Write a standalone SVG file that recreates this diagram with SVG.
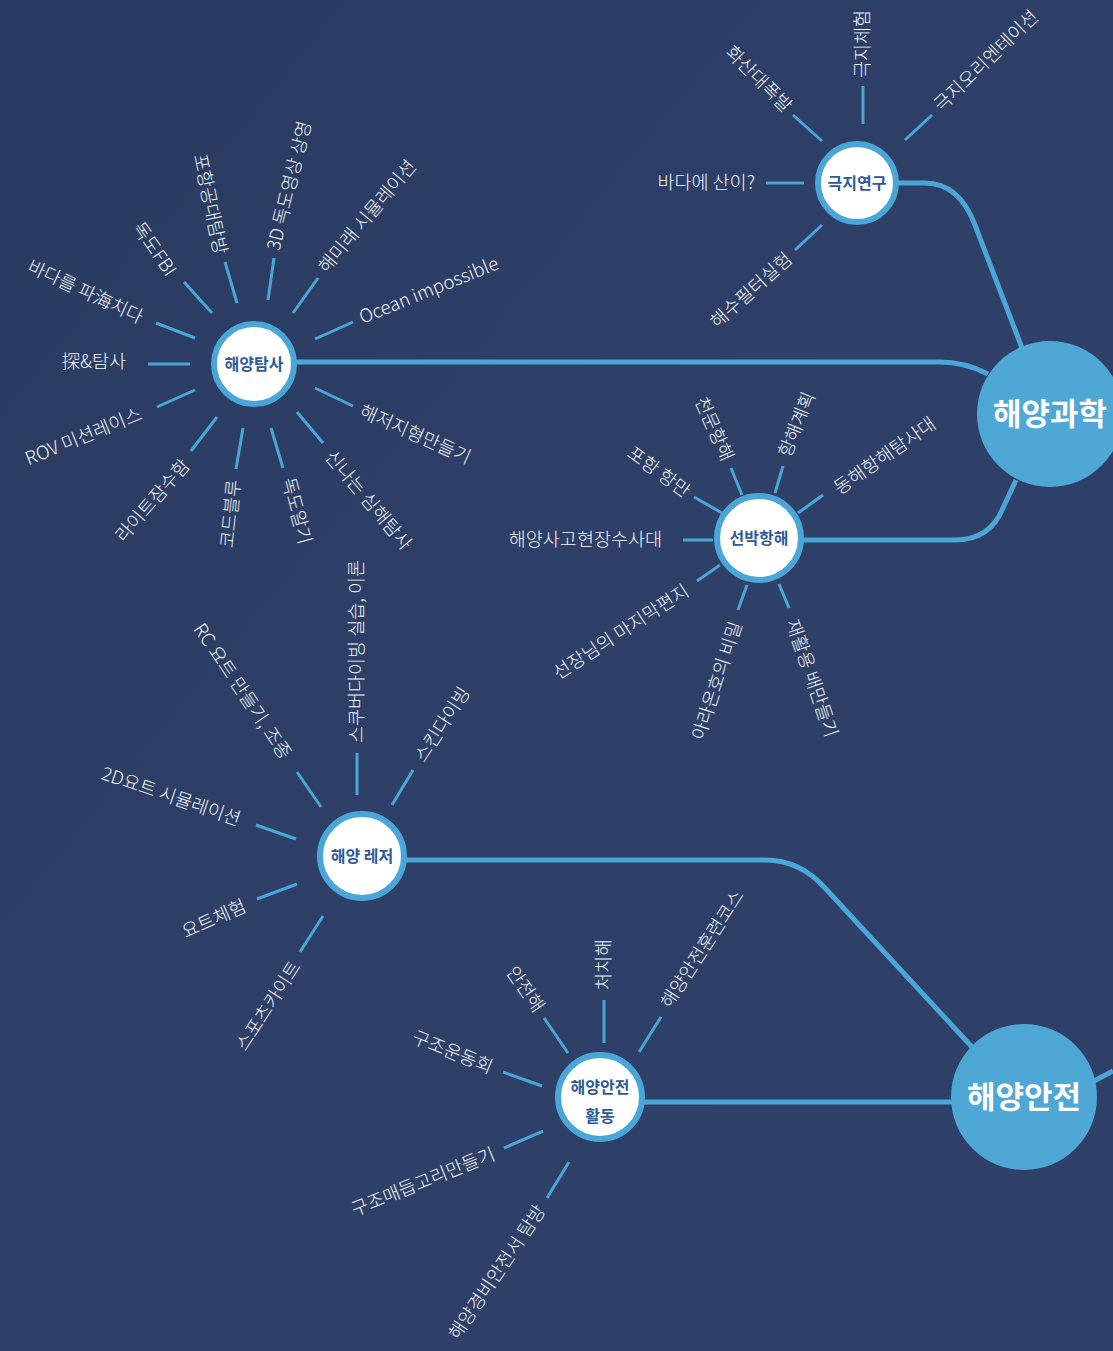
<svg xmlns="http://www.w3.org/2000/svg" width="1113" height="1351" viewBox="0 0 1113 1351">
<style>
.conn{fill:none;stroke:#4aa6d6;stroke-width:5;stroke-linejoin:round}
.spoke{stroke:#4aa6d6;stroke-width:3}
.hub{fill:#fff;stroke:#4aa6d6;stroke-width:6}
.hubt{font-family:"Noto Sans CJK KR","Noto Sans",sans-serif;font-weight:bold;font-size:16px;fill:#2d5a9b;text-anchor:middle}
.big{fill:#4ea7d5}
.bigt{font-family:"Noto Sans CJK KR","Noto Sans",sans-serif;font-weight:bold;font-size:31px;fill:#fff;text-anchor:middle}
.l{font-family:"Noto Sans CJK KR","Noto Sans",sans-serif;font-size:18.5px;fill:#f4f6fa;font-weight:300}
.e{text-anchor:end}
</style>
<defs>
<linearGradient id="bg" x1="0" y1="0" x2="1" y2="1">
<stop offset="0" stop-color="#2a3b61"/>
<stop offset="0.5" stop-color="#2e4068"/>
<stop offset="1" stop-color="#2f4169"/>
</linearGradient>
</defs>
<rect width="1113" height="1351" fill="url(#bg)"/>

<g id="connectors">
<path class="conn" d="M898,183 L925,183 Q959,183 975,225 L1022,348"/>
<path class="conn" d="M295,362 L940,362 Q965,362 988,374"/>
<path class="conn" d="M802,540 L955,540 Q990,540 1003,508 L1016,480"/>
<path class="conn" d="M405,860 L765,860 Q800,860 825,888 L972,1047"/>
<path class="conn" d="M643,1102 L952,1102"/>
<path class="conn" d="M1094,1081 L1113,1071"/>
<!-- 극지연구 spokes -->
<line class="spoke" x1="863" y1="86" x2="863" y2="124"/>
<line class="spoke" x1="793" y1="115" x2="822" y2="141"/>
<line class="spoke" x1="905" y1="140" x2="932" y2="115"/>
<line class="spoke" x1="766" y1="183" x2="804" y2="183"/>
<line class="spoke" x1="795" y1="250" x2="822" y2="225"/>
<!-- 해양탐사 spokes -->
<line class="spoke" x1="274" y1="258" x2="268" y2="300"/>
<line class="spoke" x1="225" y1="262" x2="237" y2="303"/>
<line class="spoke" x1="184" y1="282" x2="212" y2="313"/>
<line class="spoke" x1="156" y1="323" x2="195" y2="338"/>
<line class="spoke" x1="148" y1="364" x2="190" y2="364"/>
<line class="spoke" x1="157" y1="407" x2="195" y2="390"/>
<line class="spoke" x1="191" y1="451" x2="217" y2="417"/>
<line class="spoke" x1="236" y1="469" x2="243" y2="428"/>
<line class="spoke" x1="283" y1="468" x2="271" y2="428"/>
<line class="spoke" x1="323" y1="443" x2="297" y2="412"/>
<line class="spoke" x1="353" y1="406" x2="315" y2="388"/>
<line class="spoke" x1="315" y1="339" x2="353" y2="322"/>
<line class="spoke" x1="293" y1="313" x2="318" y2="278"/>
<!-- 선박항해 spokes -->
<line class="spoke" x1="683" y1="540" x2="713" y2="540"/>
<line class="spoke" x1="694" y1="497" x2="722" y2="513"/>
<line class="spoke" x1="731" y1="468" x2="742" y2="495"/>
<line class="spoke" x1="783" y1="466" x2="775" y2="493"/>
<line class="spoke" x1="823" y1="495" x2="798" y2="513"/>
<line class="spoke" x1="697" y1="581" x2="720" y2="565"/>
<line class="spoke" x1="738" y1="610" x2="747" y2="585"/>
<line class="spoke" x1="789" y1="608" x2="779" y2="584"/>
<!-- 해양 레저 spokes -->
<line class="spoke" x1="357" y1="753" x2="357" y2="795"/>
<line class="spoke" x1="413" y1="770" x2="392" y2="805"/>
<line class="spoke" x1="297" y1="772" x2="321" y2="807"/>
<line class="spoke" x1="256" y1="825" x2="296" y2="839"/>
<line class="spoke" x1="257" y1="899" x2="297" y2="884"/>
<line class="spoke" x1="300" y1="952" x2="323" y2="916"/>
<!-- 해양안전 활동 spokes -->
<line class="spoke" x1="604" y1="1000" x2="604" y2="1043"/>
<line class="spoke" x1="544" y1="1018" x2="568" y2="1053"/>
<line class="spoke" x1="661" y1="1017" x2="639" y2="1052"/>
<line class="spoke" x1="503" y1="1072" x2="542" y2="1086"/>
<line class="spoke" x1="504" y1="1148" x2="543" y2="1131"/>
<line class="spoke" x1="547" y1="1198" x2="569" y2="1162"/>
</g>

<g id="node-haeyang-gwahak">
<circle class="big" cx="1050" cy="414" r="73"/>
<text class="bigt" x="1050" y="425">해양과학</text>
</g>
<g id="node-haeyang-anjeon">
<circle class="big" cx="1024" cy="1097" r="73"/>
<text class="bigt" x="1024" y="1108">해양안전</text>
</g>

<g id="node-gukji">
<circle class="hub" cx="857" cy="183" r="39"/>
<text class="hubt" x="857" y="189">극지연구</text>
</g>
<g id="node-tamsa">
<circle class="hub" cx="254" cy="364" r="40"/>
<text class="hubt" x="254" y="370">해양탐사</text>
</g>
<g id="node-seonbak">
<circle class="hub" cx="759" cy="538" r="42"/>
<text class="hubt" x="759" y="544">선박항해</text>
</g>
<g id="node-leisure">
<circle class="hub" cx="362" cy="856" r="42"/>
<text class="hubt" x="362" y="862">해양 레저</text>
</g>
<g id="node-safety-act">
<circle class="hub" cx="600" cy="1097" r="42"/>
<text class="hubt" x="600" y="1093">해양안전</text>
<text class="hubt" x="600" y="1122">활동</text>
</g>

<g id="labels-gukji">
<text class="l" dy="0.35em" transform="translate(863,78) rotate(-90)">극지체험</text>
<text class="l e" dy="0.35em" transform="translate(789,109) rotate(45)">화산대폭발</text>
<text class="l" dy="0.35em" transform="translate(937,108) rotate(-44)">극지오리엔테이션</text>
<text class="l e" dy="0.35em" transform="translate(755,183)">바다에 산이?</text>
<text class="l e" dy="0.35em" transform="translate(789,256) rotate(-42)">해수필터실험</text>
</g>

<g id="labels-tamsa">
<text class="l" dy="0.35em" transform="translate(273,250) rotate(-76)">3D 독도영상 상영</text>
<text class="l e" dy="0.35em" transform="translate(221,254) rotate(78)">포항공대탐방</text>
<text class="l e" dy="0.35em" transform="translate(172,274) rotate(55)">독도FBI</text>
<text class="l e" dy="0.35em" transform="translate(142,318) rotate(25)">바다를 파海치다</text>
<text class="l e" dy="0.35em" transform="translate(126,362)">探&amp;탐사</text>
<text class="l e" dy="0.35em" transform="translate(141,413) rotate(-22)">ROV 미션레이스</text>
<text class="l e" dy="0.35em" transform="translate(186,462) rotate(-49)">라이트잠수함</text>
<text class="l e" dy="0.35em" transform="translate(234,480) rotate(-84)">코드블루</text>
<text class="l" dy="0.35em" transform="translate(288,478) rotate(75)">독도알기</text>
<text class="l" dy="0.35em" transform="translate(329,453) rotate(50)">신나는 심해탐사</text>
<text class="l" dy="0.35em" transform="translate(361,410) rotate(24)">해저지형만들기</text>
<text class="l" dy="0.35em" transform="translate(360,318) rotate(-22)">Ocean impossible</text>
<text class="l" dy="0.35em" transform="translate(322,270) rotate(-50)">해미래 시뮬레이션</text>
</g>

<g id="labels-seonbak">
<text class="l e" dy="0.35em" transform="translate(662,540)">해양사고현장수사대</text>
<text class="l e" dy="0.35em" transform="translate(688,493) rotate(36)">포항 항만</text>
<text class="l e" dy="0.35em" transform="translate(728,460) rotate(66)">천문항해</text>
<text class="l" dy="0.35em" transform="translate(784,456) rotate(-68)">항해계획</text>
<text class="l" dy="0.35em" transform="translate(836,490) rotate(-35)">동해항해탐사대</text>
<text class="l e" dy="0.35em" transform="translate(687,589) rotate(-33)">선장님의 마지막편지</text>
<text class="l e" dy="0.35em" transform="translate(736,622) rotate(-72)">아라온호의 비밀</text>
<text class="l" dy="0.35em" transform="translate(792,620) rotate(71)">재활용 배만들기</text>
</g>

<g id="labels-leisure">
<text class="l" dy="0.35em" transform="translate(357,743) rotate(-90)">스쿠버다이빙 실습, 이론</text>
<text class="l" dy="0.35em" transform="translate(419,760) rotate(-57)">스킨다이빙</text>
<text class="l e" dy="0.35em" transform="translate(287,757) rotate(56)">RC 요트 만들기, 조종</text>
<text class="l e" dy="0.35em" transform="translate(240,820) rotate(19)">2D요트 시뮬레이션</text>
<text class="l e" dy="0.35em" transform="translate(245,905) rotate(-24)">요트체험</text>
<text class="l e" dy="0.35em" transform="translate(296,963) rotate(-57)">스포츠카이트</text>
</g>

<g id="labels-safety-act">
<text class="l" dy="0.35em" transform="translate(604,990) rotate(-90)">처치해</text>
<text class="l e" dy="0.35em" transform="translate(540,1010) rotate(55)">안전해</text>
<text class="l" dy="0.35em" transform="translate(665,1006) rotate(-57)">해양안전훈련코스</text>
<text class="l e" dy="0.35em" transform="translate(492,1068) rotate(22)">구조운동회</text>
<text class="l e" dy="0.35em" transform="translate(494,1153) rotate(-22)">구조매듭고리만들기</text>
<text class="l e" dy="0.35em" transform="translate(541,1207) rotate(-56)">해양경비안전서 탐방</text>
</g>
</svg>
